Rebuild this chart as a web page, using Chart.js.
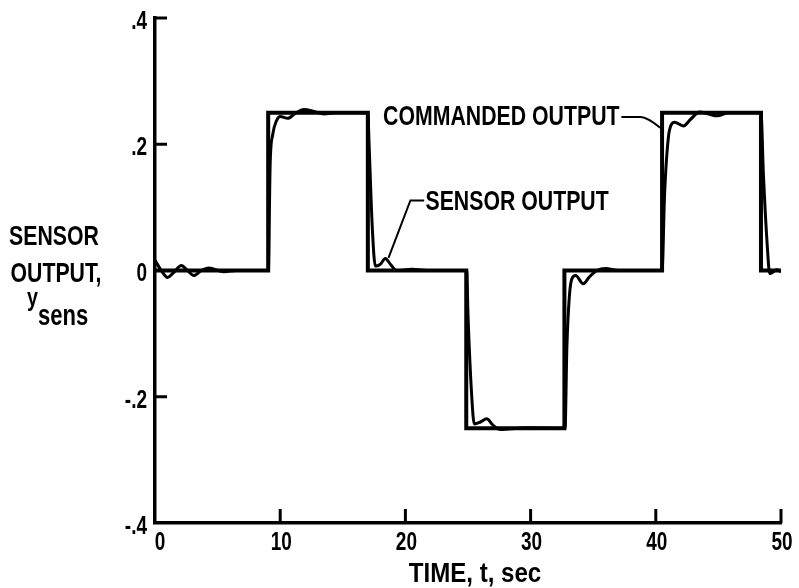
<!DOCTYPE html>
<html>
<head>
<meta charset="utf-8">
<script src="https://cdn.jsdelivr.net/npm/chart.js@4/dist/chart.umd.min.js"></script>
<style>
  html, body { margin: 0; padding: 0; background: #fff; }
  #wrap { width: 799px; height: 588px; }
</style>
</head>
<body>
<div id="wrap"><canvas id="c" width="799" height="588"></canvas></div>
<script>
// ---- Data ----
const cmdTime  = [0, 9.04, 17.0, 24.86, 32.7, 40.5, 48.4, 50];
const cmdLevel = [0, 0.25, 0, -0.25, 0, 0.25, 0, 0];

const sensorTime = [
  0, 0.5, 1.0, 1.5, 2.1, 2.6, 3.1, 3.7, 4.3, 5.5, 6.5, 9.05,
  9.2, 9.4, 9.7, 10.0, 10.6, 11.2, 11.9, 12.7, 13.5, 14.5, 17.0,
  17.1, 17.35, 17.6, 18.0, 18.4, 18.8, 19.3, 20.5, 22.0, 24.9,
  25.0, 25.3, 25.5, 26.0, 26.5, 27.0, 27.6, 29.0, 30.0, 32.75,
  32.9, 33.1, 33.3, 33.6, 34.2, 34.7, 35.3, 36.0, 37.0, 40.5,
  40.7, 41.0, 41.3, 41.5, 42.2, 42.8, 43.5, 44.2, 44.9, 45.8, 48.4,
  48.6, 48.9, 49.1, 49.4, 49.65, 50.0
];
const sensorValue = [
  0.016, 0.0, -0.011, -0.003, 0.008, 0.0, -0.008, 0.0, 0.004, -0.002, 0.0, 0.0,
  0.17, 0.215, 0.237, 0.244, 0.241, 0.249, 0.255, 0.252, 0.248, 0.25, 0.25,
  0.20, 0.07, 0.007, 0.01, 0.019, 0.01, 0.0, 0.002, 0.0, 0.0,
  -0.07, -0.20, -0.243, -0.24, -0.235, -0.245, -0.252, -0.25, -0.249, -0.25,
  -0.12, -0.04, -0.013, -0.008, -0.021, -0.01, 0.0, 0.003, 0.0, 0.0,
  0.12, 0.21, 0.233, 0.235, 0.229, 0.24, 0.251, 0.248, 0.245, 0.25, 0.25,
  0.15, 0.04, -0.005, -0.002, 0.001, -0.002
];

const yTickValues = [-0.4, -0.2, 0, 0.2, 0.4];
const yTickLabels = ['-.4', '-.2', '0', '.2', '.4'];
const xTickValues = [0, 10, 20, 30, 40, 50];
const xTickLabels = ['0', '10', '20', '30', '40', '50'];

const xTitle = 'TIME, t, sec';
const yTitleLines = ['SENSOR', 'OUTPUT,'];
const yTitleSymbol = 'y';
const yTitleSub = 'sens';

const labelCommanded = 'COMMANDED OUTPUT';
const labelSensor = 'SENSOR OUTPUT';

// ---- Styling ----
const FONT = "'Liberation Sans', Arial, sans-serif";
const INK = '#000';
const SX = 0.76; // condensed look

function drawText(ctx, s, x, y, size, align, sx) {
  sx = sx || SX;
  ctx.save();
  ctx.font = 'bold ' + size + 'px ' + FONT;
  ctx.textAlign = 'left';
  ctx.textBaseline = 'alphabetic';
  const w = ctx.measureText(s).width * sx;
  const left = align === 'left' ? x : (align === 'right' ? x - w : x - w / 2);
  ctx.translate(left, y);
  ctx.scale(sx, 1);
  ctx.fillStyle = INK;
  ctx.fillText(s, 0, 0);
  ctx.restore();
}

const decorPlugin = {
  id: 'decor',
  afterDraw(chart) {
    const ctx = chart.ctx;
    const xs = chart.scales.x, ys = chart.scales.y;
    const area = chart.chartArea;
    ctx.save();
    ctx.strokeStyle = INK;
    ctx.lineCap = 'butt';
    // inward tick marks
    ctx.lineWidth = 3;
    xs.ticks.forEach(t => {
      if (t.value === xs.min) return;
      const px = xs.getPixelForValue(t.value);
      ctx.beginPath();
      ctx.moveTo(px, area.bottom);
      ctx.lineTo(px, area.bottom - 14);
      ctx.stroke();
    });
    ys.ticks.forEach(t => {
      if (t.value === ys.min) return;
      const py = ys.getPixelForValue(t.value);
      ctx.beginPath();
      ctx.moveTo(area.left, py);
      ctx.lineTo(area.left + 12, py);
      ctx.stroke();
    });

    // tick labels
    const TICK = 25, capT = 0.716 * TICK;
    xs.ticks.forEach((t, i) => {
      const px = xs.getPixelForValue(t.value) + (i === 0 ? 5 : 1);
      drawText(ctx, xTickLabels[i], px, area.bottom + 9 + capT, TICK, 'center');
    });
    ys.ticks.forEach((t, i) => {
      const py = ys.getPixelForValue(t.value);
      drawText(ctx, yTickLabels[i], area.left - 8, py + 2 + capT / 2, TICK, 'right');
    });

    // x title
    const TS = 28, capH = 0.716 * TS;
    drawText(ctx, xTitle, (area.left + area.right) / 2 + 7, 582, TS, 'center', 0.86);

    // y title (horizontal, left)
    drawText(ctx, yTitleLines[0], 54, 235 + capH / 2, TS, 'center');
    drawText(ctx, yTitleLines[1], 56, 272 + capH / 2, TS, 'center');
    drawText(ctx, yTitleSymbol, 27, 306, 26, 'left');
    drawText(ctx, yTitleSub, 38, 325, 29, 'left');

    // annotation: commanded output
    ctx.lineWidth = 2;
    const cTextX = xs.getPixelForValue(37.1), cTextY = ys.getPixelForValue(0.246);
    drawText(ctx, labelCommanded, cTextX, cTextY + capH / 2, TS, 'right');
    ctx.beginPath();
    ctx.moveTo(xs.getPixelForValue(37.25), ys.getPixelForValue(0.243));
    ctx.lineTo(xs.getPixelForValue(38.8), ys.getPixelForValue(0.243));
    ctx.quadraticCurveTo(xs.getPixelForValue(39.3), ys.getPixelForValue(0.243),
                         xs.getPixelForValue(40.35), ys.getPixelForValue(0.226));
    ctx.stroke();

    // annotation: sensor output
    const sTextX = xs.getPixelForValue(21.6), sTextY = ys.getPixelForValue(0.111);
    drawText(ctx, labelSensor, sTextX, sTextY + capH / 2, TS, 'left');
    ctx.beginPath();
    ctx.moveTo(xs.getPixelForValue(21.5), ys.getPixelForValue(0.111));
    ctx.lineTo(xs.getPixelForValue(20.4), ys.getPixelForValue(0.111));
    ctx.lineTo(xs.getPixelForValue(18.65), ys.getPixelForValue(0.02));
    ctx.stroke();
    ctx.restore();
  }
};

new Chart(document.getElementById('c'), {
  type: 'line',
  data: {
    datasets: [
      {
        label: 'Commanded output',
        data: cmdTime.map((t, i) => ({ x: t, y: cmdLevel[i] })),
        stepped: true,
        borderColor: INK,
        borderWidth: 4,
        pointRadius: 0,
        fill: false
      },
      {
        label: 'Sensor output',
        data: sensorTime.map((t, i) => ({ x: t, y: sensorValue[i] })),
        cubicInterpolationMode: 'monotone',
        borderColor: INK,
        borderWidth: 3,
        pointRadius: 0,
        fill: false
      }
    ]
  },
  options: {
    responsive: false,
    animation: false,
    devicePixelRatio: 1,
    layout: { padding: { top: 18, right: 18, left: 0, bottom: 0 } },
    plugins: { legend: { display: false }, tooltip: { enabled: false } },
    scales: {
      x: {
        type: 'linear',
        min: 0, max: 50,
        afterBuildTicks: s => { s.ticks = xTickValues.map(v => ({ value: v })); },
        ticks: { display: false },
        grid: { display: false, drawTicks: false },
        border: { display: true, color: INK, width: 3.5 },
        afterFit: s => { s.height = 65; }
      },
      y: {
        type: 'linear',
        min: -0.4, max: 0.4,
        afterBuildTicks: s => { s.ticks = yTickValues.map(v => ({ value: v })); },
        ticks: { display: false },
        grid: { display: false, drawTicks: false },
        border: { display: true, color: INK, width: 3.5 },
        afterFit: s => { s.width = 155; }
      }
    }
  },
  plugins: [decorPlugin]
});
</script>
</body>
</html>
